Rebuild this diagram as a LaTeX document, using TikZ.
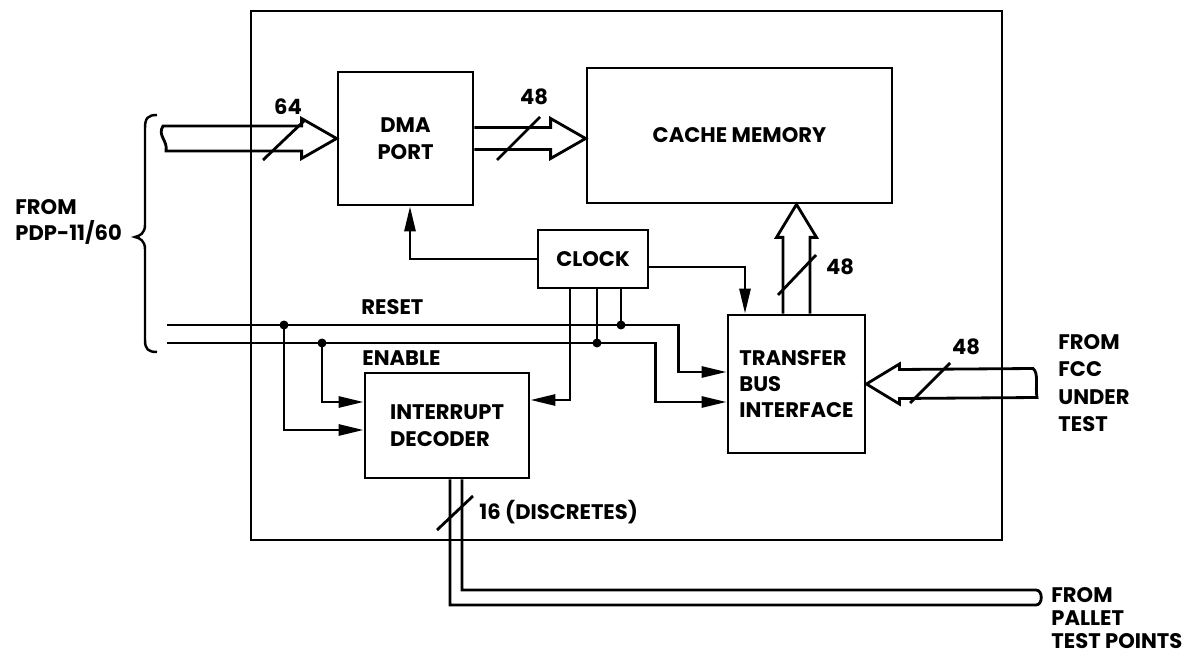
\documentclass[tikz,border=0pt]{standalone}
\usepackage{fontspec}
\setmainfont{Poppins}
\usetikzlibrary{arrows.meta,calc}
\newcommand\dfont{\bfseries\fontsize{12}{15}\selectfont}
\begin{document}
\begin{tikzpicture}[x=0.02cm,y=-0.02cm, line width=1.6pt,
 blk/.style={draw, line width=1.6pt, inner sep=0pt, font=\dfont, align=center},
 lbl/.style={font=\dfont, inner sep=0pt},
 arr/.style={-{Triangle[length=0.5cm,width=0.22cm]}},
 bus/.style={line width=1.6pt, line join=miter},
 dot/.style={fill, circle, inner sep=0pt, minimum size=0.18cm}]
\useasboundingbox (0,0) rectangle (1189,658);
% boxes
\node[draw, line width=1.6pt, inner sep=0pt, minimum width=15.02cm, minimum height=10.58cm] (main) at (626.5,275.5) {};
\node[blk, minimum width=2.7cm, minimum height=2.66cm] (dma) at (405.5,138.5) {DMA\\PORT};
\node[blk, minimum width=6.1cm, minimum height=2.7cm] (cache) at (739.5,135.5) {CACHE MEMORY};
\node[blk, minimum width=2.2cm, minimum height=1.16cm] (clock) at (593,259) {CLOCK};
\node[blk, align=left, minimum width=2.74cm, minimum height=2.76cm] (tbi) at (796.5,384) {TRANSFER\\BUS\\INTERFACE};
\node[blk, align=left, minimum width=3.28cm, minimum height=2.1cm] (dec) at (447,425.5) {INTERRUPT\\DECODER};
% bus 64 into DMA
\coordinate (b64) at (163,138.5);
\draw[bus] ($(b64)+(0,-12.5)$) -- ($(dma.west)+(-35,-12.5)$) -- ($(dma.west)+(-35,-20)$) -- (dma.west) -- ($(dma.west)+(-35,20)$) -- ($(dma.west)+(-35,12.5)$) -- ($(b64)+(3,12.5)$) .. controls ($(b64)+(5,2)$) and ($(b64)+(-6,-3)$) .. cycle;
\coordinate (s64a) at (263,160); \coordinate (s64b) at (305,120);
\draw (s64a) -- (s64b);
\node[lbl] (l64) at (288,107) {64};
% bus 48 DMA -> cache
\draw[bus] ($(dma.east)+(0,-11)$) -- ($(cache.west |- dma.east)+(-35,-11)$) -- ($(cache.west |- dma.east)+(-35,-20)$) -- (cache.west |- dma.east) -- ($(cache.west |- dma.east)+(-35,20)$) -- ($(cache.west |- dma.east)+(-35,11)$) -- ($(dma.east)+(0,11)$);
\coordinate (s48a) at (497,160); \coordinate (s48b) at (540,117);
\draw (s48a) -- (s48b);
\node[lbl] (l48a) at (534,97) {48};
% bus 48 TBI -> cache
\draw[bus] ($(tbi.north)+(-13.5,0)$) -- ($(tbi.north |- cache.south)+(-13.5,33)$) -- ($(tbi.north |- cache.south)+(-20,33)$) -- (tbi.north |- cache.south) -- ($(tbi.north |- cache.south)+(20,33)$) -- ($(tbi.north |- cache.south)+(13.5,33)$) -- ($(tbi.north)+(13.5,0)$);
\coordinate (s48c) at (778,295); \coordinate (s48d) at (816,255);
\draw (s48c) -- (s48d);
\node[lbl] (l48b) at (840,267) {48};
% bus 48 from FCC
\coordinate (bfcc) at (1033,383);
\draw[bus] ($(bfcc)+(0,-14.5)$) -- ($(tbi.east)+(33,-14.5)$) -- ($(tbi.east)+(33,-20)$) -- (tbi.east) -- ($(tbi.east)+(33,20)$) -- ($(tbi.east)+(33,14.5)$) -- ($(bfcc)+(4,14.5)$) .. controls ($(bfcc)+(2,4)$) and ($(bfcc)+(6,-10)$) .. cycle;
\coordinate (s48e) at (910,403); \coordinate (s48f) at (950,363);
\draw (s48e) -- (s48f);
\node[lbl] (l48c) at (966,347) {48};
% bus 16 to pallet test points
\coordinate (bpal) at (1036,597.5);
\draw[bus] ($(dec.south)+(15,0)$) |- ($(bpal)+(0,-7.5)$) .. controls +(7,0) and +(7,0) .. ($(bpal)+(0,7.5)$) -| ($(dec.south)+(3,0)$);
\coordinate (s16a) at (437,530); \coordinate (s16b) at (473,496);
\draw (s16a) -- (s16b);
\node[lbl, anchor=west] (l16) at (478,512) {16 (DISCRETES)};
% clock connections
\draw[arr] (clock.west) -| ($(dma.south)+(4.5,0)$);
\draw[arr] ($(clock.east)+(0,8)$) -| ($(tbi.north)+(-51.5,0)$);
% reset and enable
\coordinate (rst0) at (167,325);
\coordinate (en0) at (167,343);
\draw[arr] (rst0) -| ($(tbi.west)+(-48,-12)$) -- ($(tbi.west)+(0,-12)$);
\draw[arr] (en0) -| ($(tbi.west)+(-71,18)$) -- ($(tbi.west)+(0,18)$);
\node[dot] (jr1) at (284,325) {};
\node[dot] (je1) at (322,343) {};
\node[dot] (jr2) at (621,325) {};
\node[dot] (je2) at (597,343) {};
\draw[arr] (jr1.center) |- ($(dec.west)+(0,4.5)$);
\draw[arr] (je1.center) |- ($(dec.west)+(0,-23.5)$);
\draw ($(clock.south)+(28,0)$) -- (jr2.center);
\draw ($(clock.south)+(4,0)$) -- (je2.center);
\draw[arr] ($(clock.south)+(-23,0)$) |- ($(dec.east)+(0,-25.5)$);
\node[lbl, anchor=west] (lrst) at (360,307) {RESET};
\node[lbl, anchor=west] (lena) at (361,358) {ENABLE};
% brace
\draw[line width=1.4pt] (157,115) .. controls (148,115) and (145,118) .. (145,128) -- (145,225) .. controls (145,233) and (140,236) .. (135,237) .. controls (140,238) and (145,241) .. (145,249) -- (145,340) .. controls (145,349) and (148,352) .. (157,352);
% outside labels
\node[lbl, anchor=west, align=left] (lpdp) at (14,222) {FROM\\PDP-11/60};
\node[lbl, anchor=west, align=left, font=\bfseries\fontsize{12}{15.5}\selectfont] (lfcc) at (1057,383) {FROM\\FCC\\UNDER\\TEST};
\node[lbl, anchor=west, align=left, font=\bfseries\fontsize{12}{13.2}\selectfont] (lpal) at (1050,618) {FROM\\PALLET\\TEST POINTS};
\end{tikzpicture}
\end{document}
